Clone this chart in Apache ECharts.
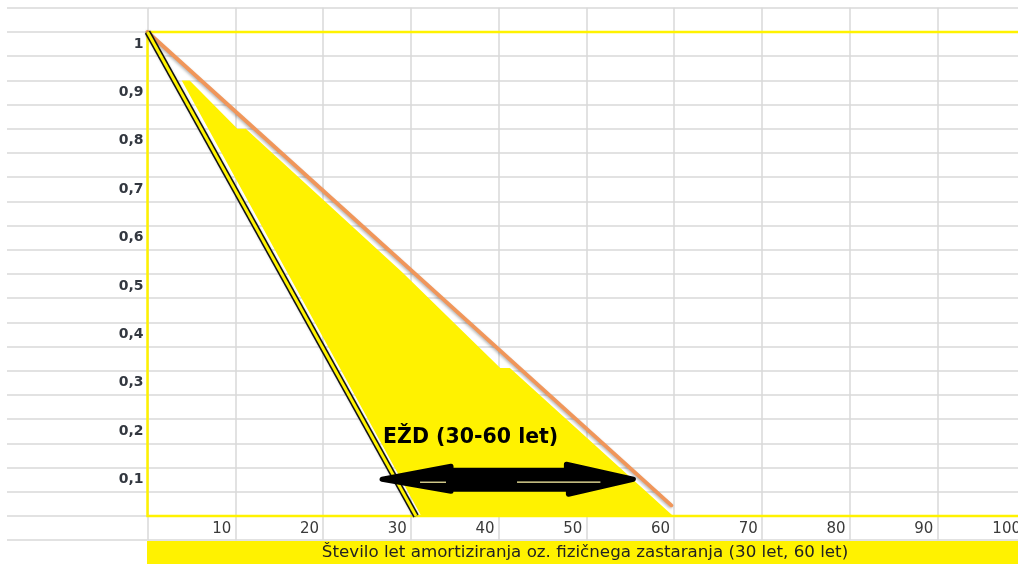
<!DOCTYPE html>
<html>
<head>
<meta charset="utf-8">
<script src="https://cdn.jsdelivr.net/npm/echarts@6/dist/echarts.min.js"></script>
<style>
  html, body { margin: 0; padding: 0; background: #ffffff; }
  #chart { width: 1018px; height: 564px; }
</style>
</head>
<body>
<div id="chart"></div>
<script>
// Residual value share (1 = new) against years of depreciation / physical ageing
const shortLife = [[0, 1], [30.6, 0]];          // 30-year service life
const longLife = [[0, 1], [59.7, 0.022]];       // 60-year service life
// Economic service life band (EŽD) between the two lines
const ezdArea = [
  [3.9, 0.9], [4.8, 0.9], [10.25, 0.8], [11.2, 0.8], [29.0, 0.504],
  [40.2, 0.306], [41.3, 0.306], [59.9, 0], [31.2, 0]
];
const ezdArrow = [[26.5, 0.076], [55.6, 0.076]];
const ezdLabel = 'EŽD (30-60 let)';
const axisTitle = 'Število let amortiziranja oz. fizičnega zastaranja (30 let, 60 let)';
const xRange = [0, 100], xStep = 10;
const yRange = [-0.05, 1.05], yStep = 0.05;

const YELLOW = '#FFF200';
const ORANGE = '#F0965A';
const GRID = '#d8d8d8';

function yLabel(v) {
  const k = Math.round(v * 100);
  if (k >= 10 && k <= 100 && k % 10 === 0) return k === 100 ? '1' : '0,' + (k / 10);
  return '';
}

const chart = echarts.init(document.getElementById('chart'), null, { renderer: 'canvas' });

chart.setOption({
  animation: false,
  backgroundColor: '#ffffff',
  grid: [
    { left: 147.5, top: 7.8, width: 877.5, height: 532.4, outerBoundsMode: 'none', containLabel: false },
    { left: 7, top: 7.8, width: 140.5, height: 532.4, outerBoundsMode: 'none', containLabel: false }
  ],
  xAxis: [
    {
      gridIndex: 0, type: 'value', min: xRange[0], max: xRange[1], interval: xStep,
      axisLine: { show: false, onZero: false },
      axisTick: { show: false },
      splitLine: { show: true, lineStyle: { color: GRID, width: 1.5 } },
      axisLabel: {
        show: true, inside: true, hideOverlap: false,
        formatter: v => (v === 0 ? '' : String(v)),
        align: 'right', verticalAlign: 'bottom', lineHeight: 24,
        padding: [0, 4, 0, 0], margin: -1,
        fontFamily: 'DejaVu Sans', fontSize: 15, color: '#3a3a3a'
      }
    },
    { gridIndex: 1, type: 'value', min: 0, max: 1, show: false }
  ],
  yAxis: [
    {
      gridIndex: 0, type: 'value', min: yRange[0], max: yRange[1], interval: yStep,
      axisLine: { show: false }, axisTick: { show: false },
      splitLine: { show: true, lineStyle: { color: GRID, width: 1.5 } },
      axisLabel: {
        formatter: yLabel, verticalAlign: 'top', lineHeight: 24, margin: 4,
        fontFamily: 'DejaVu Sans', fontWeight: 'bold', fontSize: 14, color: '#333840'
      }
    },
    {
      gridIndex: 1, type: 'value', min: yRange[0], max: yRange[1], interval: yStep,
      axisLine: { show: false }, axisTick: { show: false }, axisLabel: { show: false },
      splitLine: { show: true, lineStyle: { color: GRID, width: 1.5 } }
    }
  ],
  series: [
    {
      // shaded EŽD band and the yellow plot frame
      type: 'custom', xAxisIndex: 0, yAxisIndex: 0, silent: true,
      data: ezdArea,
      renderItem: (params, api) => {
        if (params.dataIndex !== 0) return null;
        return {
          type: 'polygon',
          shape: { points: ezdArea.map(p => api.coord(p)) },
          style: { fill: YELLOW }
        };
      },
      markArea: {
        silent: true,
        itemStyle: { color: 'rgba(0,0,0,0)', borderColor: YELLOW, borderWidth: 2.5 },
        data: [[{ coord: [0, 1] }, { coord: [100, 0] }]]
      },
      z: 1
    },
    {
      name: '60 let', type: 'line', data: longLife, symbol: 'none', silent: true,
      lineStyle: {
        color: ORANGE, width: 3.8, cap: 'round',
        shadowColor: 'rgba(0,0,0,0.3)', shadowBlur: 3, shadowOffsetX: -1, shadowOffsetY: 1
      },
      z: 3
    },
    {
      name: '30 let', type: 'line', data: shortLife, symbol: 'none', silent: true,
      lineStyle: { color: '#111111', width: 6, shadowColor: 'rgba(0,0,0,0.25)', shadowBlur: 2 },
      z: 3
    },
    {
      type: 'line', data: shortLife, symbol: 'none', silent: true,
      lineStyle: { color: YELLOW, width: 3 },
      z: 4
    },
    {
      // double-headed arrow with its caption
      type: 'custom', xAxisIndex: 0, yAxisIndex: 0, silent: true,
      data: ezdArrow,
      renderItem: (params, api) => {
        if (params.dataIndex !== 0) return null;
        const a = api.coord(ezdArrow[0]);
        const b = api.coord(ezdArrow[1]);
        const y = a[1], x1 = a[0], x2 = b[0];
        const pts = [
          [x1 + 2, y], [x1 + 71, y - 13], [x1 + 71, y - 9], [x2 - 69, y - 9], [x2 - 69, y - 15],
          [x2 - 2, y], [x2 - 67, y + 15], [x2 - 67, y + 10], [x1 + 71, y + 10], [x1 + 71, y + 12]
        ];
        return {
          type: 'group',
          children: [
            { type: 'polygon', shape: { points: pts },
              style: { fill: '#000000', stroke: '#000000', lineWidth: 5, lineJoin: 'round' } },
            { type: 'line', shape: { x1: x1 + 40, y1: y + 3, x2: x1 + 66, y2: y + 3 },
              style: { stroke: '#fff6a8', lineWidth: 1.2 } },
            { type: 'line', shape: { x1: x1 + 137, y1: y + 3, x2: x2 - 35, y2: y + 3 },
              style: { stroke: '#fff6a8', lineWidth: 1.2 } },
            { type: 'text', x: x1 + 3, y: y - 42,
              style: { text: ezdLabel, fill: '#000000', font: 'bold 20.5px "DejaVu Sans"',
                       align: 'left', verticalAlign: 'middle',
                       shadowColor: 'rgba(0,0,0,0.35)', shadowBlur: 2 } }
          ]
        };
      },
      z: 5
    }
  ],
  graphic: [
    { type: 'rect', shape: { x: 147, y: 541, width: 871, height: 23 }, style: { fill: YELLOW }, z: 10 },
    { type: 'text', x: 585, y: 552.5,
      style: { text: axisTitle, fill: '#222222', font: '16.7px "DejaVu Sans"', align: 'center', verticalAlign: 'middle' },
      z: 11 }
  ]
});
</script>
</body>
</html>
